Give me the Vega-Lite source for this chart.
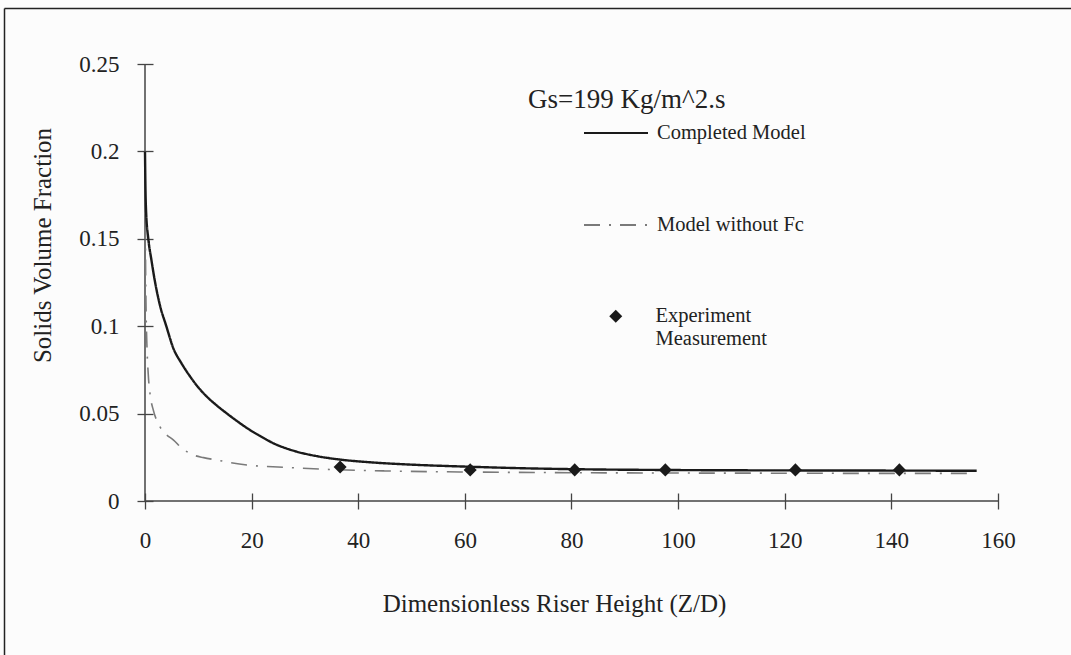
{
  "$schema": "https://vega.github.io/schema/vega-lite/v6.json",
  "width": 1067,
  "height": 647,
  "autosize": {"type": "none"},
  "padding": {"left": 4, "top": 8, "right": 0, "bottom": 0},
  "background": "#fcfcfc",
  "config": {
    "font": "Liberation Serif",
    "view": {"stroke": null}
  },
  "title": {
    "text": "Gs=199 Kg/m^2.s",
    "orient": "top",
    "anchor": "start",
    "frame": "group",
    "offset": 0,
    "dx": 524,
    "dy": 127,
    "baseline": "alphabetic",
    "font": "Liberation Serif",
    "fontSize": 27,
    "fontWeight": "normal",
    "color": "#222"
  },
  "datasets": {
    "axislines": [
      {"x": 0, "x2": 160, "y": 0, "y2": 0},
      {"x": 0, "x2": 0, "y": 0, "y2": 0.25}
    ],
    "solid": [
      {"series": "Completed Model", "x": 0, "y": 0.2},
      {"series": "Completed Model", "x": 0.08, "y": 0.18},
      {"series": "Completed Model", "x": 0.2, "y": 0.166},
      {"series": "Completed Model", "x": 0.62, "y": 0.15},
      {"series": "Completed Model", "x": 1.2, "y": 0.138},
      {"series": "Completed Model", "x": 1.9, "y": 0.125},
      {"series": "Completed Model", "x": 2.8, "y": 0.112},
      {"series": "Completed Model", "x": 4.0, "y": 0.1},
      {"series": "Completed Model", "x": 5.3, "y": 0.0875},
      {"series": "Completed Model", "x": 6.8, "y": 0.079},
      {"series": "Completed Model", "x": 8.4, "y": 0.0715},
      {"series": "Completed Model", "x": 10, "y": 0.065},
      {"series": "Completed Model", "x": 11.6, "y": 0.0597},
      {"series": "Completed Model", "x": 13.4, "y": 0.0548},
      {"series": "Completed Model", "x": 15.3, "y": 0.0502},
      {"series": "Completed Model", "x": 17.5, "y": 0.0452},
      {"series": "Completed Model", "x": 19.7, "y": 0.0406},
      {"series": "Completed Model", "x": 22, "y": 0.0365},
      {"series": "Completed Model", "x": 24.1, "y": 0.033},
      {"series": "Completed Model", "x": 26.3, "y": 0.0303},
      {"series": "Completed Model", "x": 28.5, "y": 0.0282},
      {"series": "Completed Model", "x": 32, "y": 0.0258},
      {"series": "Completed Model", "x": 36.6, "y": 0.0237},
      {"series": "Completed Model", "x": 42, "y": 0.0222},
      {"series": "Completed Model", "x": 50, "y": 0.0208},
      {"series": "Completed Model", "x": 61, "y": 0.0196},
      {"series": "Completed Model", "x": 70, "y": 0.0188},
      {"series": "Completed Model", "x": 80.6, "y": 0.0182},
      {"series": "Completed Model", "x": 100, "y": 0.0177},
      {"series": "Completed Model", "x": 120, "y": 0.0175},
      {"series": "Completed Model", "x": 140, "y": 0.0174},
      {"series": "Completed Model", "x": 156, "y": 0.0173}
    ],
    "dashdot": [
      {"series": "Model without Fc", "x": 0, "y": 0.2},
      {"series": "Model without Fc", "x": 0.05, "y": 0.17},
      {"series": "Model without Fc", "x": 0.1, "y": 0.14},
      {"series": "Model without Fc", "x": 0.2, "y": 0.11},
      {"series": "Model without Fc", "x": 0.35, "y": 0.09},
      {"series": "Model without Fc", "x": 0.6, "y": 0.073},
      {"series": "Model without Fc", "x": 1.0, "y": 0.06},
      {"series": "Model without Fc", "x": 1.56, "y": 0.052},
      {"series": "Model without Fc", "x": 2.8, "y": 0.0425},
      {"series": "Model without Fc", "x": 4, "y": 0.038},
      {"series": "Model without Fc", "x": 5.3, "y": 0.035},
      {"series": "Model without Fc", "x": 7, "y": 0.03},
      {"series": "Model without Fc", "x": 9.1, "y": 0.0263},
      {"series": "Model without Fc", "x": 11, "y": 0.0248},
      {"series": "Model without Fc", "x": 13.4, "y": 0.0235},
      {"series": "Model without Fc", "x": 16, "y": 0.022},
      {"series": "Model without Fc", "x": 19.1, "y": 0.0206},
      {"series": "Model without Fc", "x": 26, "y": 0.0193},
      {"series": "Model without Fc", "x": 35, "y": 0.018},
      {"series": "Model without Fc", "x": 45, "y": 0.0172},
      {"series": "Model without Fc", "x": 60, "y": 0.0166},
      {"series": "Model without Fc", "x": 80, "y": 0.0162},
      {"series": "Model without Fc", "x": 100, "y": 0.016},
      {"series": "Model without Fc", "x": 120, "y": 0.0159},
      {"series": "Model without Fc", "x": 140, "y": 0.0158},
      {"series": "Model without Fc", "x": 155, "y": 0.0158}
    ],
    "points": [
      {"kind": "Experiment Measurement", "x": 36.6, "y": 0.0194},
      {"kind": "Experiment Measurement", "x": 61, "y": 0.0178},
      {"kind": "Experiment Measurement", "x": 80.6, "y": 0.0178},
      {"kind": "Experiment Measurement", "x": 97.6, "y": 0.0178},
      {"kind": "Experiment Measurement", "x": 122, "y": 0.0178},
      {"kind": "Experiment Measurement", "x": 141.5, "y": 0.0178}
    ]
  },
  "layer": [
    {
      "data": {"name": "axislines"},
      "mark": {"type": "rule", "color": "#444", "strokeWidth": 1.5},
      "encoding": {
        "x": {
          "field": "x",
          "type": "quantitative",
          "scale": {"domain": [-26.448, 173.693], "nice": false, "zero": false},
          "axis": {
            "orient": "top",
            "offset": 0,
            "domain": true,
            "domainColor": "#222",
            "domainWidth": 1.5,
            "ticks": false,
            "labels": false,
            "grid": false,
            "title": null
          }
        },
        "y": {
          "field": "y",
          "type": "quantitative",
          "scale": {"domain": [-0.0881, 0.282037], "nice": false, "zero": false},
          "axis": {
            "orient": "right",
            "offset": -1067,
            "domain": true,
            "domainColor": "#222",
            "domainWidth": 1.5,
            "ticks": false,
            "labels": false,
            "grid": false,
            "title": null
          }
        },
        "x2": {"field": "x2"},
        "y2": {"field": "y2"}
      }
    },
    {
      "data": {"name": "dashdot"},
      "mark": {"type": "line", "strokeWidth": 1.6, "interpolate": "monotone"},
      "encoding": {
        "x": {
          "field": "x",
          "type": "quantitative",
          "scale": {"domain": [-26.448, 173.693], "nice": false, "zero": false},
          "axis": {
            "orient": "bottom",
            "values": [0, 20, 40, 60, 80, 100, 120, 140, 160],
            "format": "d",
            "domain": false,
            "grid": false,
            "offset": -162,
            "tickSize": 16,
            "tickColor": "#444",
            "tickWidth": 1.3,
            "labelFont": "Liberation Serif",
            "labelFontSize": 23,
            "labelColor": "#222",
            "labelPadding": 20,
            "labelFlush": false,
            "title": "Dimensionless Riser Height (Z/D)",
            "titleFont": "Liberation Serif",
            "titleFontSize": 25,
            "titleFontWeight": "normal",
            "titleColor": "#222",
            "titleX": 550,
            "titleY": 118,
            "titleBaseline": "alphabetic"
          }
        },
        "y": {
          "field": "y",
          "type": "quantitative",
          "scale": {"domain": [-0.0881, 0.282037], "nice": false, "zero": false},
          "axis": {
            "orient": "left",
            "values": [0, 0.05, 0.1, 0.15, 0.2, 0.25],
            "format": "~g",
            "domain": false,
            "grid": false,
            "offset": -149,
            "tickSize": 16,
            "tickColor": "#444",
            "tickWidth": 1.3,
            "labelFont": "Liberation Serif",
            "labelFontSize": 23,
            "labelColor": "#222",
            "labelPadding": 18,
            "labelFlush": false,
            "title": "Solids Volume Fraction",
            "titleFont": "Liberation Serif",
            "titleFontSize": 25,
            "titleFontWeight": "normal",
            "titleColor": "#222",
            "titleX": -103,
            "titleY": 237,
            "titleBaseline": "alphabetic"
          }
        },
        "color": {
          "field": "series",
          "type": "nominal",
          "scale": {"domain": ["Completed Model", "Model without Fc"], "range": ["#1a1a1a", "#7a7a7a"]},
          "legend": {
            "orient": "none",
            "legendX": 579,
            "legendY": 92,
            "title": null,
            "padding": 0,
            "symbolType": "stroke",
            "symbolSize": 4096,
            "symbolStrokeWidth": 2,
            "labelFont": "Liberation Serif",
            "labelFontSize": 20.5,
            "labelColor": "#222",
            "labelOffset": 8,
            "rowPadding": 48,
            "labelLimit": 400
          }
        },
        "strokeDash": {
          "field": "series",
          "type": "nominal",
          "scale": {"domain": ["Completed Model", "Model without Fc"], "range": [[1, 0], [16, 9, 2, 9]]},
          "legend": {
            "orient": "none",
            "legendX": 579,
            "legendY": 92,
            "title": null,
            "padding": 0,
            "symbolType": "stroke",
            "symbolSize": 4096,
            "symbolStrokeWidth": 2,
            "labelFont": "Liberation Serif",
            "labelFontSize": 20.5,
            "labelColor": "#222",
            "labelOffset": 8,
            "rowPadding": 48,
            "labelLimit": 400
          }
        }
      }
    },
    {
      "data": {"name": "solid"},
      "mark": {"type": "line", "strokeWidth": 2.4, "interpolate": "monotone"},
      "encoding": {
        "x": {"field": "x", "type": "quantitative", "axis": null},
        "y": {"field": "y", "type": "quantitative", "axis": null},
        "color": {"field": "series", "type": "nominal"},
        "strokeDash": {"field": "series", "type": "nominal"}
      }
    },
    {
      "data": {"name": "points"},
      "mark": {"type": "point", "filled": true, "size": 170, "color": "#1a1a1a", "opacity": 1},
      "encoding": {
        "x": {"field": "x", "type": "quantitative", "axis": null},
        "y": {"field": "y", "type": "quantitative", "axis": null},
        "shape": {
          "field": "kind",
          "type": "nominal",
          "scale": {"domain": ["Experiment Measurement"], "range": ["diamond"]},
          "legend": {
            "orient": "none",
            "legendX": 601.5,
            "legendY": 298,
            "title": null,
            "padding": 0,
            "symbolSize": 170,
            "symbolFillColor": "#1a1a1a",
            "symbolStrokeColor": "#1a1a1a",
            "symbolOpacity": 1,
            "labelFont": "Liberation Serif",
            "labelFontSize": 20.5,
            "labelColor": "#222",
            "labelOffset": 29.5,
            "labelLimit": 400,
            "labelExpr": "split(datum.label, ' ')"
          }
        }
      }
    }
  ]
}
